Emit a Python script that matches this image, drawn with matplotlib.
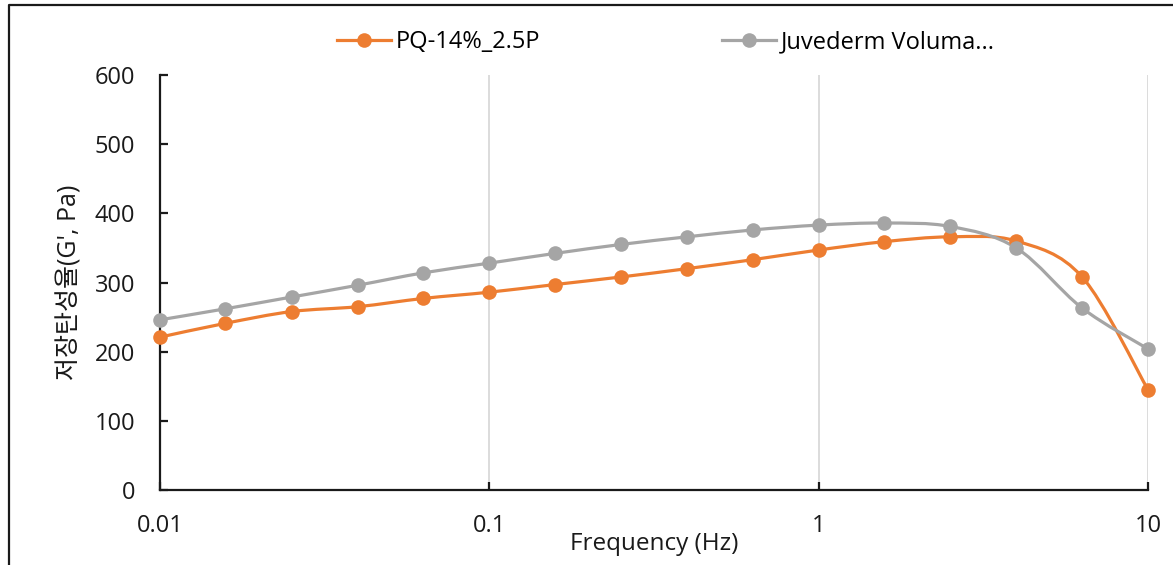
import numpy as np
import matplotlib
matplotlib.use('Agg')
import matplotlib.pyplot as plt
from matplotlib.path import Path
from matplotlib.patches import PathPatch
from matplotlib.lines import Line2D

plt.rcParams['font.family'] = ['Open Sans', 'Noto Sans CJK KR', 'DejaVu Sans']

freq = [0.01, 0.0158, 0.0251, 0.0398, 0.0631, 0.1, 0.158, 0.251, 0.398, 0.631,
        1, 1.58, 2.51, 3.98, 6.31, 10]
pq = [221, 241, 258, 265, 277, 286, 297, 308, 320, 333, 347, 359, 366, 360, 308, 145]
voluma = [246, 262, 279, 296, 314, 328, 342, 355, 366, 376, 383, 386, 381, 350, 263, 204]

names = ['PQ-14%_2.5P', 'Juvederm Voluma...']
colors = ['#ED7D31', '#A5A5A5']
x_ticks = [0.01, 0.1, 1, 10]
x_tick_labels = ['0.01', '0.1', '1', '10']
y_ticks = [0, 100, 200, 300, 400, 500, 600]


def smooth_path(xs, ys):
    # Excel-like smoothed line: cubic Bezier with Catmull-Rom control points,
    # built in (log10 x, y) space, handed back in data coordinates
    lx = np.log10(xs)
    ys = np.asarray(ys, dtype=float)
    pts = np.column_stack([lx, ys])
    n = len(pts)
    verts = [pts[0]]
    codes = [Path.MOVETO]
    for i in range(n - 1):
        p0 = pts[max(i - 1, 0)]
        p1 = pts[i]
        p2 = pts[i + 1]
        p3 = pts[min(i + 2, n - 1)]
        c1 = p1 + (p2 - p0) / 6
        c2 = p2 - (p3 - p1) / 6
        verts += [c1, c2, p2]
        codes += [Path.CURVE4] * 3
    verts = np.array(verts)
    verts[:, 0] = 10 ** verts[:, 0]
    return Path(verts, codes)


fig = plt.figure(figsize=(11.73, 5.65), dpi=100)
ax = fig.add_axes([160 / 1173, 75 / 565, 988 / 1173, 415 / 565])

for ys, c in zip([pq, voluma], colors):
    ax.add_patch(PathPatch(smooth_path(freq, ys), fill=False, edgecolor=c,
                           linewidth=2.3, capstyle='round', joinstyle='round',
                           zorder=3, clip_on=False))
    ax.plot(freq, ys, linestyle='none', marker='o', markersize=10.5,
            color=c, markeredgewidth=0, zorder=4, clip_on=False)

ax.set_xscale('log')
ax.set_xlim(0.01, 10)
ax.set_ylim(0, 600)
ax.set_xticks(x_ticks)
ax.set_xticklabels(x_tick_labels)
ax.xaxis.set_minor_locator(matplotlib.ticker.NullLocator())
ax.set_yticks(y_ticks)

ax.grid(True, axis='x', color='#D9D9D9', linewidth=1.3, zorder=0)
ax.set_axisbelow(True)
for s in ['top', 'right']:
    ax.spines[s].set_visible(False)
for s in ['left', 'bottom']:
    ax.spines[s].set_color('#1a1a1a')
    ax.spines[s].set_linewidth(1.6)

ax.tick_params(axis='both', direction='in', length=6, width=1.6, color='#1a1a1a',
               labelsize=17, labelcolor='#1a1a1a')
ax.tick_params(axis='y', pad=18)
ax.tick_params(axis='x', pad=17)

ax.set_xlabel('Frequency (Hz)', fontsize=17.5, color='#1a1a1a')
ax.xaxis.set_label_coords(0.5, -0.100)
ax.set_ylabel("저장탄성율(G', Pa)", fontsize=18, color='#1a1a1a')
ax.yaxis.set_label_coords(-0.078, 0.5)

handles = [Line2D([], [], color=c, linewidth=2.3, marker='o', markersize=10.5,
                  markeredgewidth=0) for c in colors]
fig.legend(handles, names, loc='center', bbox_to_anchor=(666 / 1173, 1 - 42 / 565),
           ncol=2, frameon=False, fontsize=17, handlelength=2.3,
           handletextpad=0.2, columnspacing=7.7)

# chart area border (cropped at right and bottom)
fig.add_artist(Line2D([9 / 1173, 9 / 1173, 1.0], [0.0, 1 - 5 / 565, 1 - 5 / 565],
                      transform=fig.transFigure, color='#1a1a1a', linewidth=1.6))

fig.savefig('out.png', dpi=100)
